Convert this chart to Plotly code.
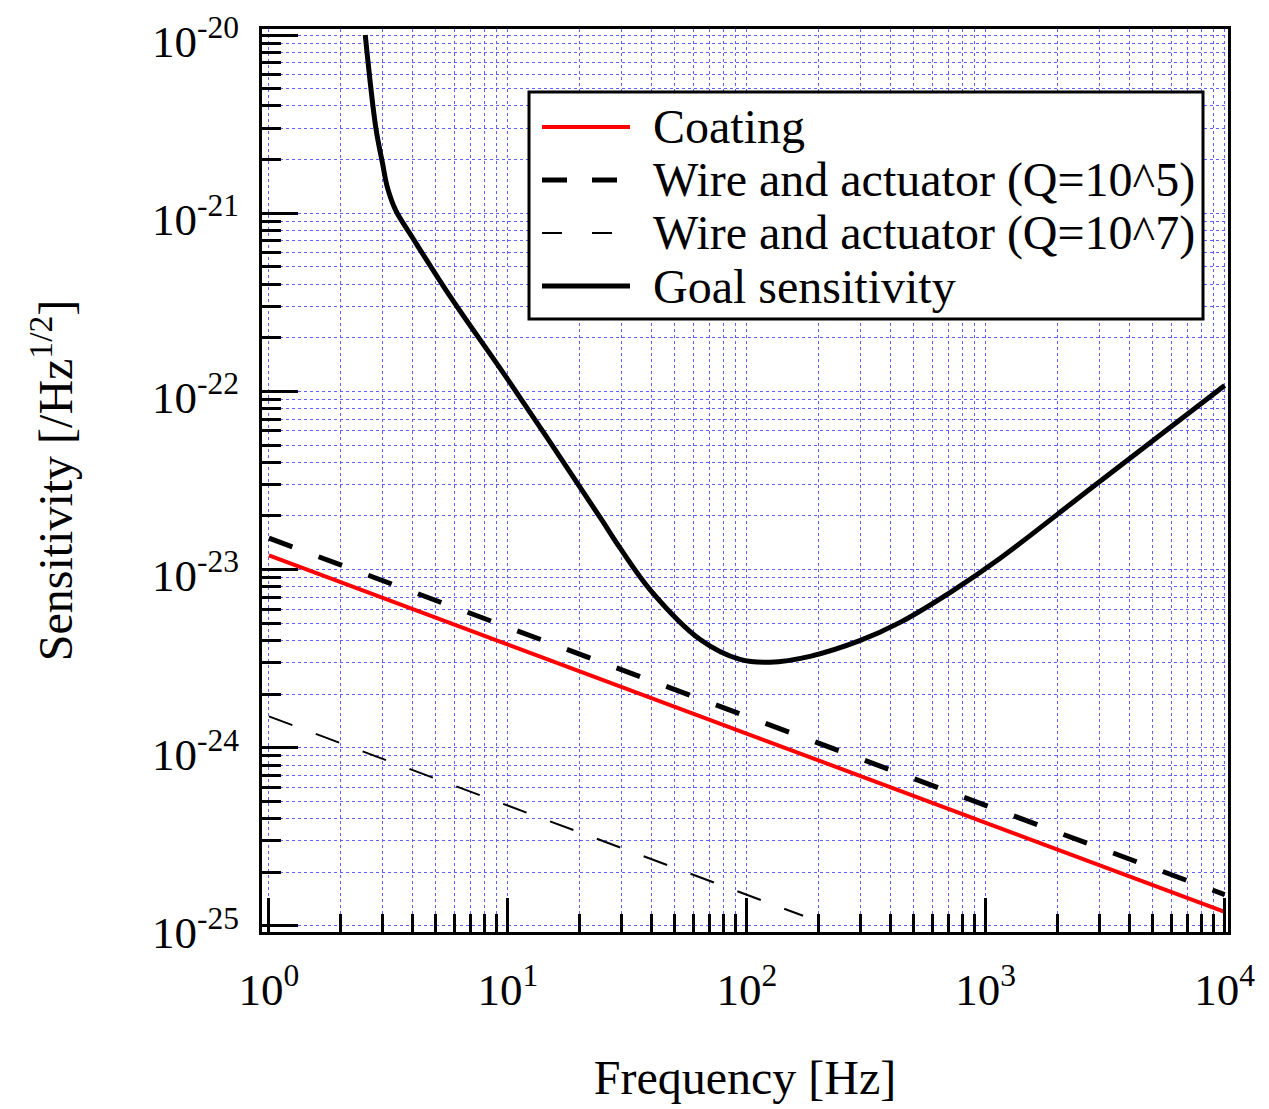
import plotly.graph_objects as go

# Noise budget: frequency [Hz] vs. sensitivity [/Hz^1/2]
coating_freq = [1.0, 1.0e4]
coating_val = [1.2e-23, 1.2e-25]

wire_q5_freq = [1.0, 1.0e4]
wire_q5_val = [1.5e-23, 1.5e-25]

wire_q7_freq = [1.0, 172.0]
wire_q7_val = [1.5e-24, 1.14e-25]

goal_freq = [2.53, 2.80, 2.99, 3.13, 3.39, 3.98, 5.76, 10.25, 24.4, 29.5, 39.4,
             63.8, 93.7, 125.0, 184.0, 297.0, 436.0, 706.0, 1142.0, 2793.0, 1.0e4]
goal_val = [1.0e-20, 3.03e-21, 1.90e-21, 1.40e-21, 1.04e-21, 7.33e-22, 3.38e-22,
            1.11e-22, 1.95e-23, 1.32e-23, 7.7e-24, 4.05e-24, 3.13e-24, 3.02e-24,
            3.26e-24, 3.99e-24, 5.04e-24, 7.41e-24, 1.15e-23, 2.9e-23, 1.08e-22]

legend_labels = ["Coating", "Wire and actuator (Q=10^5)",
                 "Wire and actuator (Q=10^7)", "Goal sensitivity"]

x_tickvals = [1, 10, 100, 1000, 10000]
x_ticktext = ["10<sup>0</sup>", "10<sup>1</sup>", "10<sup>2</sup>", "10<sup>3</sup>", "10<sup>4</sup>"]
y_tickvals = [1e-25, 1e-24, 1e-23, 1e-22, 1e-21, 1e-20]
y_ticktext = ["10<sup>-25</sup>", "10<sup>-24</sup>", "10<sup>-23</sup>",
              "10<sup>-22</sup>", "10<sup>-21</sup>", "10<sup>-20</sup>"]

x_minor = [m * 10 ** d for d in range(0, 4) for m in range(2, 10)]
y_minor = [m * 10.0 ** d for d in range(-25, -20) for m in range(2, 10)]

FONT = "Liberation Serif, Times New Roman, serif"
GRID = "rgb(95,95,255)"

# figure geometry (pixels)
W, H = 1269, 1109
ML, MR, MT, MB = 262, 41, 29, 177
PW, PH = W - ML - MR, H - MT - MB


def px(x):
    return (x - ML) / PW


def py(y):
    return (H - MB - y) / PH


styles = [
    dict(color="rgb(255,0,0)", width=4),
    dict(color="black", width=5, dash="25px,25px"),
    dict(color="black", width=2, dash="20px,30px"),
    dict(color="black", width=5),
]

fig = go.Figure()
fig.add_trace(go.Scatter(x=coating_freq, y=coating_val, mode="lines", name=legend_labels[0],
                         line=dict(color="rgb(255,0,0)", width=4)))
fig.add_trace(go.Scatter(x=wire_q5_freq, y=wire_q5_val, mode="lines", name=legend_labels[1],
                         line=dict(color="black", width=5, dash="25px,28px")))
fig.add_trace(go.Scatter(x=wire_q7_freq, y=wire_q7_val, mode="lines", name=legend_labels[2],
                         line=dict(color="black", width=2, dash="25px,25px")))
fig.add_trace(go.Scatter(x=goal_freq, y=goal_val, mode="lines", name=legend_labels[3],
                         line=dict(color="black", width=5, shape="spline", smoothing=1.0)))

axis_common = dict(
    type="log",
    showline=True, linecolor="black", linewidth=3, mirror=True,
    ticks="inside", tickcolor="black", tickwidth=3,
    showgrid=True, gridcolor=GRID, gridwidth=1, griddash="3px,3px",
    tickmode="array", zeroline=False, ticklabeloverflow="allow",
    tickfont=dict(family=FONT, size=45, color="black"),
)

fig.update_xaxes(
    **axis_common,
    range=[-0.029, 4.014],
    tickvals=x_tickvals, ticktext=x_ticktext, ticklen=34,
    ticklabelstandoff=16,
    minor=dict(tickmode="array", tickvals=x_minor, ticks="inside", ticklen=18,
               tickwidth=3, tickcolor="black", showgrid=True, gridcolor=GRID,
               gridwidth=1, griddash="3px,3px"),
    title=dict(text="Frequency [Hz]", font=dict(family=FONT, size=48, color="black"),
               standoff=47),
)
fig.update_yaxes(
    **axis_common,
    range=[-25.034, -19.966],
    tickvals=y_tickvals, ticktext=y_ticktext, ticklen=36,
    ticklabelstandoff=11, ticklabelshift=6,
    minor=dict(tickmode="array", tickvals=y_minor, ticks="inside", ticklen=19,
               tickwidth=3, tickcolor="black", showgrid=True, gridcolor=GRID,
               gridwidth=1, griddash="3px,3px"),
    title=dict(text="Sensitivity [/Hz<sup>1/2</sup>]",
               font=dict(family=FONT, size=48, color="black"), standoff=65),
)

# legend box drawn on top of the grid
shapes = [dict(type="rect", xref="paper", yref="paper",
               x0=px(529), x1=px(1203), y0=py(319), y1=py(92),
               fillcolor="white", line=dict(color="black", width=3), layer="above")]
annotations = []
row_y = [127, 180, 233, 286]
for label, st, ry in zip(legend_labels, styles, row_y):
    shapes.append(dict(type="line", xref="paper", yref="paper",
                       x0=px(542), x1=px(630), y0=py(ry), y1=py(ry),
                       line=st, layer="above"))
    annotations.append(dict(text=label, xref="paper", yref="paper",
                            x=px(651), y=py(ry), xanchor="left", yanchor="middle",
                            showarrow=False,
                            font=dict(family=FONT, size=48, color="black")))

fig.update_layout(
    width=W, height=H,
    margin=dict(l=ML, r=MR, t=MT, b=MB, autoexpand=False),
    paper_bgcolor="white", plot_bgcolor="white",
    font=dict(family=FONT, size=45, color="black"),
    showlegend=False,
    shapes=shapes, annotations=annotations,
)

fig.write_html("out.html")
